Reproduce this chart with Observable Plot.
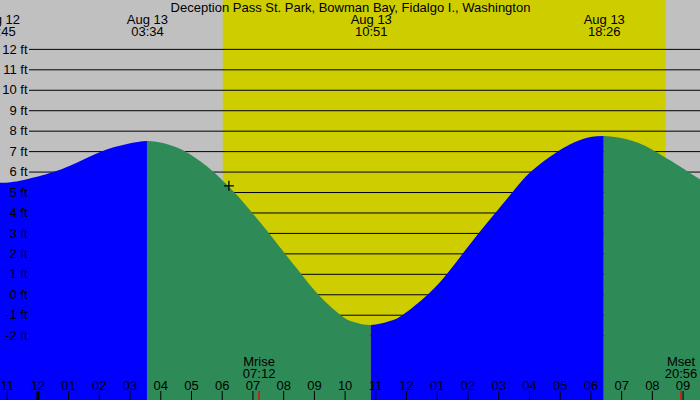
<!DOCTYPE html>
<html>
<head>
<meta charset="utf-8">
<script src="https://cdn.jsdelivr.net/npm/d3@7"></script>
<script src="https://cdn.jsdelivr.net/npm/@observablehq/plot@0.6"></script>
<style>
html, body { margin: 0; padding: 0; background: #ffffff; }
#chart { width: 700px; height: 400px; overflow: hidden; position: relative; }
#chart svg { display: block; }
</style>
</head>
<body>
<div id="chart"></div>
<script>
// ---------- data ----------
const title = "Deception Pass St. Park, Bowman Bay, Fidalgo I., Washington";
const viewStart = "2024-08-12 22:47";
const viewEnd = "2024-08-13 21:34";

const tideTimes = [
  "2024-08-12 22:47", "2024-08-12 23:26", "2024-08-13 00:34", "2024-08-13 01:23",
  "2024-08-13 02:06", "2024-08-13 02:55", "2024-08-13 03:34", "2024-08-13 04:09",
  "2024-08-13 04:48", "2024-08-13 05:18", "2024-08-13 05:43", "2024-08-13 06:24",
  "2024-08-13 06:59", "2024-08-13 07:32", "2024-08-13 08:03", "2024-08-13 08:35",
  "2024-08-13 09:08", "2024-08-13 09:51", "2024-08-13 10:16", "2024-08-13 10:51",
  "2024-08-13 11:27", "2024-08-13 11:54", "2024-08-13 12:43", "2024-08-13 13:20",
  "2024-08-13 13:51", "2024-08-13 14:22", "2024-08-13 14:55", "2024-08-13 15:28",
  "2024-08-13 16:04", "2024-08-13 16:57", "2024-08-13 17:40", "2024-08-13 18:26",
  "2024-08-13 19:23", "2024-08-13 20:06", "2024-08-13 20:39", "2024-08-13 21:10",
  "2024-08-13 21:34"
];
const tideFeet = [
  5.45, 5.55, 6.0, 6.5,
  7.0, 7.35, 7.5, 7.37,
  7.0, 6.5, 6.0, 5.0,
  4.0, 3.0, 2.0, 1.0,
  0.0, -1.0, -1.34, -1.5,
  -1.32, -1.0, 0.0, 1.0,
  2.0, 3.0, 4.0, 5.0,
  6.0, 7.0, 7.55, 7.74,
  7.5, 7.0, 6.5, 6.0,
  5.62
];

const extremeTimes = ["2024-08-12 22:45", "2024-08-13 03:34", "2024-08-13 10:51", "2024-08-13 18:26"];
const extremeDays = ["Aug 12", "Aug 13", "Aug 13", "Aug 13"];
const extremeClock = ["22:45", "03:34", "10:51", "18:26"];
const extremeKinds = ["low", "high", "low", "high"];

const sunTimes = ["2024-08-13 06:02", "2024-08-13 20:27"];

const moonNames = ["Mrise", "Mset"];
const moonTimes = ["2024-08-13 07:12", "2024-08-13 20:56"];
const moonClock = ["07:12", "20:56"];

const markerTime = "2024-08-13 06:13";
const markerFeet = 5.33;

const feetTicks = [-2, -1, 0, 1, 2, 3, 4, 5, 6, 7, 8, 9, 10, 11, 12];
const feetDomain = [-5.17, 14.39];

// ---------- build tables ----------
const parse = d3.utcParse("%Y-%m-%d %H:%M");
const t0 = parse(viewStart), t1 = parse(viewEnd);
const tide = tideTimes.map((t, i) => ({time: parse(t), ft: tideFeet[i]}));
const extremes = extremeTimes.map((t, i) => ({
  time: parse(t), day: extremeDays[i], clock: extremeClock[i], kind: extremeKinds[i]
}));
const phases = extremes.map((e, i) => ({
  start: e.time,
  end: i + 1 < extremes.length ? extremes[i + 1].time : t1,
  phase: e.kind === "low" ? "rising" : "falling"
}));
const daylight = [{start: parse(sunTimes[0]), end: parse(sunTimes[1])}];
const moon = moonNames.map((n, i) => ({name: n, time: parse(moonTimes[i]), clock: moonClock[i]}));
const hours = d3.utcHour.range(t0, t1);
const midnights = hours.filter(h => h.getUTCHours() === 0);
const hourFmt = d3.utcFormat("%I");
const marker = [{time: parse(markerTime), ft: markerFeet}];

const font = "'Liberation Sans', Arial, Helvetica, sans-serif";
const fs = 13;

const svg = Plot.plot({
  width: 700,
  height: 400,
  margin: 0,
  x: {type: "utc", domain: [t0, t1], axis: null},
  y: {domain: feetDomain, axis: null},
  color: {domain: ["rising", "falling"], range: ["#0000ff", "#2e8b57"]},
  style: {background: "#c0c0c0", overflow: "hidden", fontFamily: font, fontSize: fs + "px", color: "black"},
  marks: [
    Plot.rect(daylight, {x1: "start", x2: "end", fill: "#cdcd00"}),
    Plot.ruleY(feetTicks, {y: d => d, stroke: "black", strokeWidth: 1, insetLeft: 29}),
    Plot.rect(phases, {x1: "start", x2: "end", fill: "phase"}),
    Plot.areaY(tide, {x: "time", y1: feetDomain[0], y2: "ft", curve: "natural", fill: "none"}),
    Plot.ruleX(hours, {x: d => d, stroke: "black", strokeWidth: 1, insetTop: 391}),
    Plot.ruleX(midnights, {x: d => d, stroke: "black", strokeWidth: 3, insetTop: 391}),
    Plot.ruleX(moon, {x: "time", stroke: "#ff0000", strokeWidth: 1.5, insetTop: 391}),
    Plot.text(feetTicks, {y: d => d, text: d => `${d} ft`, frameAnchor: "left", textAnchor: "end", dx: 27, fill: "black", fontSize: fs}),
    Plot.text([title], {text: d => d, frameAnchor: "top", lineAnchor: "top", dy: 2, fill: "black", fontSize: fs}),
    Plot.text(extremes, {x: "time", text: d => d.day + "\n" + d.clock, frameAnchor: "top", lineAnchor: "top", dy: 14.8, lineHeight: 0.93, fill: "black", fontSize: fs}),
    Plot.text(hours, {x: d => d, text: d => hourFmt(d), frameAnchor: "top", lineAnchor: "top", dy: 380.5, fill: "black", fontSize: fs}),
    Plot.text(moon, {x: "time", text: d => d.name + "\n" + d.clock, frameAnchor: "top", lineAnchor: "top", dy: 357.4, lineHeight: 0.9, fill: "black", fontSize: fs}),
    Plot.dot(marker, {x: "time", y: "ft", symbol: "plus", r: 3.3, stroke: "black", strokeWidth: 1.3})
  ]
});

// Clip the rising/falling colour bands to the tide curve drawn by Plot.
(function clipToTide() {
  const ns = "http://www.w3.org/2000/svg";
  const areaG = svg.querySelector('g[aria-label="area"]');
  const rectGs = svg.querySelectorAll('g[aria-label="rect"]');
  if (!areaG || rectGs.length < 2) return;
  const areaPath = areaG.querySelector("path");
  const fillG = rectGs[1];
  const defs = document.createElementNS(ns, "defs");
  const cp = document.createElementNS(ns, "clipPath");
  cp.setAttribute("id", "tide-clip");
  const p = document.createElementNS(ns, "path");
  p.setAttribute("d", areaPath.getAttribute("d"));
  const tr = [areaG.getAttribute("transform"), areaPath.getAttribute("transform")].filter(Boolean).join(" ");
  if (tr) p.setAttribute("transform", tr);
  cp.appendChild(p);
  defs.appendChild(cp);
  svg.insertBefore(defs, svg.firstChild);
  const wrap = document.createElementNS(ns, "g");
  wrap.setAttribute("clip-path", "url(#tide-clip)");
  fillG.parentNode.insertBefore(wrap, fillG);
  wrap.appendChild(fillG);
})();

document.getElementById("chart").appendChild(svg);
</script>
</body>
</html>
